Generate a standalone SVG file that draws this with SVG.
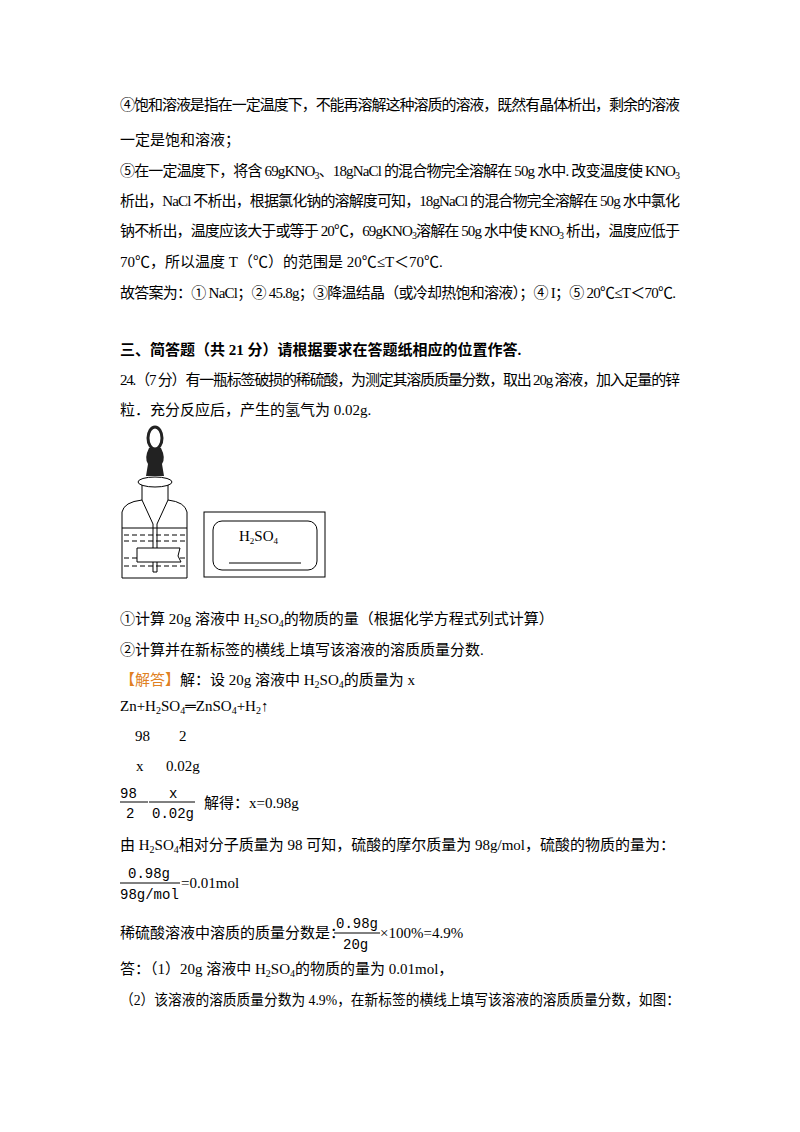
<svg xmlns="http://www.w3.org/2000/svg" width="800" height="1132" viewBox="0 0 800 1132">
<style>
text{font-family:"Liberation Serif","Noto Sans CJK SC",serif;font-size:15px;fill:#000}
.b{font-weight:bold}
.f{font-family:"Liberation Mono","Noto Sans CJK SC",monospace;font-size:14px}
.ln{stroke:#000;stroke-width:1;fill:none}
</style>
<rect width="800" height="1132" fill="#fff"/>
<text x="120" y="110" textLength="560" lengthAdjust="spacing">④饱和溶液是指在一定温度下，不能再溶解这种溶质的溶液，既然有晶体析出，剩余的溶液</text>
<text x="120" y="145">一定是饱和溶液；</text>
<text x="120" y="176" textLength="560" lengthAdjust="spacing">⑤在一定温度下，将含 69gKNO<tspan font-size="10" dy="3">3</tspan><tspan dy="-3">、18gNaCl 的混合物完全溶解在 50g 水中. 改变温度使 KNO</tspan><tspan font-size="10" dy="3">3</tspan></text>
<text x="120" y="206" textLength="560" lengthAdjust="spacing">析出，NaCl 不析出，根据氯化钠的溶解度可知，18gNaCl 的混合物完全溶解在 50g 水中氯化</text>
<text x="120" y="236" textLength="560" lengthAdjust="spacing">钠不析出，温度应该大于或等于 20℃，69gKNO<tspan font-size="10" dy="3">3</tspan><tspan dy="-3">溶解在 50g 水中使 KNO</tspan><tspan font-size="10" dy="3">3</tspan><tspan dy="-3"> 析出，温度应低于</tspan></text>
<text x="120" y="267">70℃，所以温度 T（℃）的范围是 20℃≤T＜70℃.</text>
<text x="120" y="298" textLength="556" lengthAdjust="spacing">故答案为：① NaCl；② 45.8g；③降温结晶（或冷却热饱和溶液）；④ I；⑤ 20℃≤T＜70℃.</text>
<text x="120" y="355" class="b">三、简答题（共 21 分）请根据要求在答题纸相应的位置作答.</text>
<text x="120" y="385" textLength="560" lengthAdjust="spacing">24.（7 分）有一瓶标签破损的稀硫酸，为测定其溶质质量分数，取出 20g 溶液，加入足量的锌</text>
<text x="120" y="415">粒．充分反应后，产生的氢气为 0.02g.</text>
<g id="bottle">
<ellipse cx="155" cy="438" rx="7" ry="11" fill="none" stroke="#222" stroke-width="3"/>
<path d="M149,448 Q144,458 148,464 L146,476 L164,476 L162,464 Q166,458 161,448 Z" fill="#222"/>
<ellipse cx="155" cy="482" rx="17" ry="5" class="ln"/>
<path class="ln" d="M142,485 L142,500 Q124,502 122,512 L122,578 L187,578 L187,512 Q185,502 168,500 L168,485"/>
<path class="ln" d="M142,500 L153,524 L153,572 L157,572 L157,524 L168,500"/>
<line x1="122" y1="528" x2="187" y2="528" class="ln"/>
<g stroke="#000" stroke-dasharray="5,3" stroke-width="1">
<line x1="124" y1="535" x2="186" y2="535"/><line x1="124" y1="541" x2="186" y2="541"/>
<line x1="124" y1="558" x2="186" y2="558"/><line x1="124" y1="566" x2="186" y2="566"/>
</g>
<path d="M137,548 L180,548 L178,556 L181,562 L137,562 Z" fill="#fff" stroke="#000"/>
</g>
<g id="label">
<rect x="204" y="512" width="121" height="65" class="ln"/>
<rect x="213" y="521" width="104" height="49" rx="9" class="ln"/>
<text x="239" y="541" font-size="13">H<tspan font-size="9" dy="3">2</tspan><tspan dy="-3">SO</tspan><tspan font-size="9" dy="3">4</tspan></text>
<line x1="229" y1="563" x2="301" y2="563" class="ln"/>
</g>
<text x="120" y="624">①计算 20g 溶液中 H<tspan font-size="10" dy="3">2</tspan><tspan dy="-3">SO</tspan><tspan font-size="10" dy="3">4</tspan><tspan dy="-3">的物质的量（根据化学方程式列式计算）</tspan></text>
<text x="120" y="655">②计算并在新标签的横线上填写该溶液的溶质质量分数.</text>
<text x="120" y="685"><tspan fill="#e08020">【解答】</tspan>解：设 20g 溶液中 H<tspan font-size="10" dy="3">2</tspan><tspan dy="-3">SO</tspan><tspan font-size="10" dy="3">4</tspan><tspan dy="-3">的质量为 x</tspan></text>
<text x="120" y="711">Zn+H<tspan font-size="10" dy="3">2</tspan><tspan dy="-3">SO</tspan><tspan font-size="10" dy="3">4</tspan><tspan dy="-3">═ZnSO</tspan><tspan font-size="10" dy="3">4</tspan><tspan dy="-3">+H</tspan><tspan font-size="10" dy="3">2</tspan><tspan dy="-3">↑</tspan></text>
<text x="135" y="741">98</text><text x="179" y="741">2</text>
<text x="136" y="771">x</text><text x="166" y="771">0.02g</text>
<g id="frac1">
<text x="120" y="798" class="f">98</text><line x1="120" y1="802" x2="142" y2="802" class="ln"/><text x="126" y="818" class="f">2</text>
<line x1="142" y1="802" x2="148" y2="802" class="ln"/>
<text x="169" y="798" class="f">x</text><line x1="149" y1="802" x2="195" y2="802" class="ln"/><text x="152" y="818" class="f">0.02g</text>
<text x="204" y="808">解得：x=0.98g</text>
</g>
<text x="120" y="850">由 H<tspan font-size="10" dy="3">2</tspan><tspan dy="-3">SO</tspan><tspan font-size="10" dy="3">4</tspan><tspan dy="-3">相对分子质量为 98 可知，硫酸的摩尔质量为 98g/mol，硫酸的物质的量为：</tspan></text>
<g id="frac2">
<text x="128" y="878" class="f">0.98g</text><line x1="120" y1="883" x2="180" y2="883" class="ln"/><text x="120" y="899" class="f">98g/mol</text>
<text x="181" y="888">=0.01mol</text>
</g>
<g id="frac3">
<text x="120" y="938">稀硫酸溶液中溶质的质量分数是：</text>
<text x="336" y="928" class="f">0.98g</text><line x1="334" y1="933" x2="380" y2="933" class="ln"/><text x="343" y="949" class="f">20g</text>
<text x="380" y="938">×100%=4.9%</text>
</g>
<text x="120" y="974">答：（1）20g 溶液中 H<tspan font-size="10" dy="3">2</tspan><tspan dy="-3">SO</tspan><tspan font-size="10" dy="3">4</tspan><tspan dy="-3">的物质的量为 0.01mol，</tspan></text>
<text x="120" y="1005" textLength="560" lengthAdjust="spacingAndGlyphs">（2）该溶液的溶质质量分数为 4.9%，在新标签的横线上填写该溶液的溶质质量分数，如图：</text>
</svg>
